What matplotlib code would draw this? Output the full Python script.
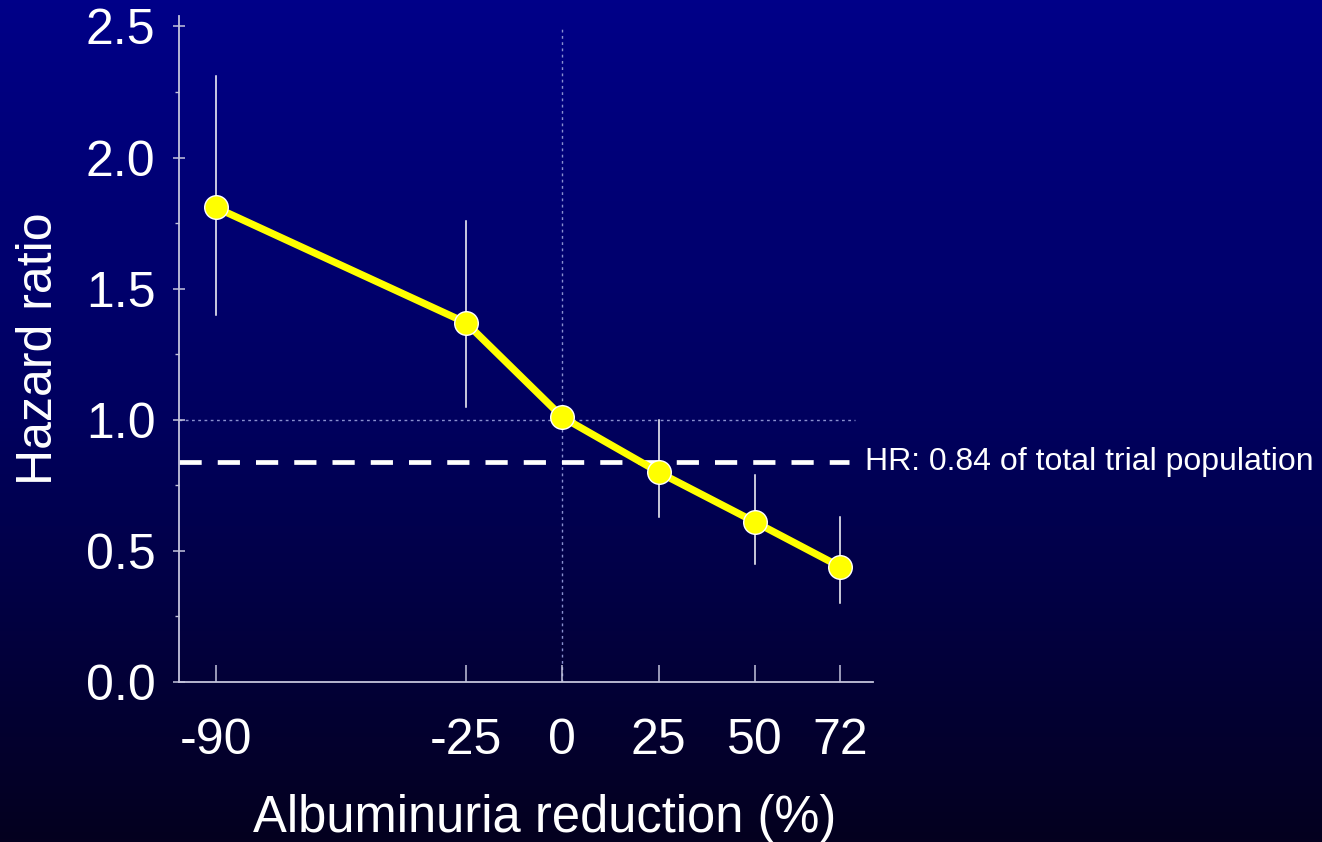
import numpy as np
import matplotlib
matplotlib.use("Agg")
import matplotlib.pyplot as plt
from matplotlib.colors import LinearSegmentedColormap

# ---- data ----
reduction = [-90, -25, 0, 25, 50, 72]
hazard_ratio = [1.81, 1.37, 1.01, 0.80, 0.61, 0.44]
ci_low = [1.40, 1.05, None, 0.63, 0.45, 0.30]
ci_high = [2.31, 1.76, None, 1.00, 0.79, 0.63]
xtick_values = [-90, -25, 0, 25, 50, 72]
ytick_values = [0.0, 0.5, 1.0, 1.5, 2.0, 2.5]
ytick_labels = ["0.0", "0.5", "1.0", "1.5", "2.0", "2.5"]
total_hr = 0.84
total_label = "HR: 0.84 of total trial population"
reference_hr = 1.0

plt.rcParams['font.family'] = ['Liberation Sans', 'DejaVu Sans']

fig = plt.figure(figsize=(13.22, 8.42), dpi=100)

# background gradient
bg = fig.add_axes([0, 0, 1, 1], zorder=-10)
cmap = LinearSegmentedColormap.from_list(
    "bg", [(0.0, "#000088"), (0.5, "#00005e"), (1.0, "#04001f")])
grad = np.linspace(0, 1, 256).reshape(-1, 1)
bg.imshow(grad, aspect="auto", cmap=cmap, extent=[0, 1, 0, 1], origin="upper")
bg.set_axis_off()

ax = fig.add_axes([179 / 1322, 1 - 682 / 842, (873 - 179) / 1322, (682 - 16) / 842])
ax.patch.set_alpha(0)
ax.set_xlim(-99.5, 80.6)
ax.set_ylim(0, 2.54)

spine_col = "#c4c4dc"
dot_col = "#8a90d0"
for s in ["top", "right"]:
    ax.spines[s].set_visible(False)
for s in ["left", "bottom"]:
    ax.spines[s].set_color(spine_col)
    ax.spines[s].set_linewidth(1.3)

# reference lines
ax.plot([0, 0], [0, 2.49], color=dot_col, lw=1.0, linestyle=(0, (2, 2.5)), zorder=1)
ax.plot([-99.5, 75.9], [reference_hr, reference_hr], color=dot_col, lw=1.0,
        linestyle=(0, (2, 2.5)), zorder=1)
ax.plot([-99.5, 74.3], [total_hr, total_hr], color="white", lw=3.4,
        linestyle=(0, (4.7, 3.4)), zorder=2, clip_on=False)
ax.text(78.5, total_hr, total_label, color="white", fontsize=23,
        va="center", ha="left", clip_on=False)

# error bars
for x, lo, hi in zip(reduction, ci_low, ci_high):
    if lo is None:
        continue
    ax.plot([x, x], [lo, hi], color="white", lw=1.1, zorder=3)

ax.plot(reduction, hazard_ratio, color="#ffff00", lw=5.2, zorder=4,
        solid_capstyle="butt")
ax.plot(reduction, hazard_ratio, linestyle="none", marker="o", markersize=17,
        markerfacecolor="#ffff00", markeredgecolor="white", markeredgewidth=1.0,
        zorder=5)

ax.set_xticks(xtick_values)
ax.set_xticklabels([str(v) for v in xtick_values])
ax.set_yticks(ytick_values)
ax.set_yticklabels(ytick_labels)
ax.set_yticks(np.arange(0.25, 2.5, 0.5), minor=True)

ax.tick_params(axis="x", direction="in", length=12, width=1.1, colors=spine_col,
               labelcolor="white", labelsize=36, pad=26)
ax.tick_params(axis="y", which="major", direction="inout", length=8, width=1.1,
               colors=spine_col, labelcolor="white", labelsize=36, pad=13)
ax.tick_params(axis="y", which="minor", direction="out", length=3, width=1.0,
               colors=spine_col)

ax.set_xlabel("Albuminuria reduction (%)", fontsize=36.5, color="white")
ax.xaxis.set_label_coords(0.527, -0.168)
ax.xaxis.label.set_va("top")
ax.set_ylabel("Hazard ratio", fontsize=36, color="white", labelpad=17)

fig.savefig("out.png", dpi=100)
